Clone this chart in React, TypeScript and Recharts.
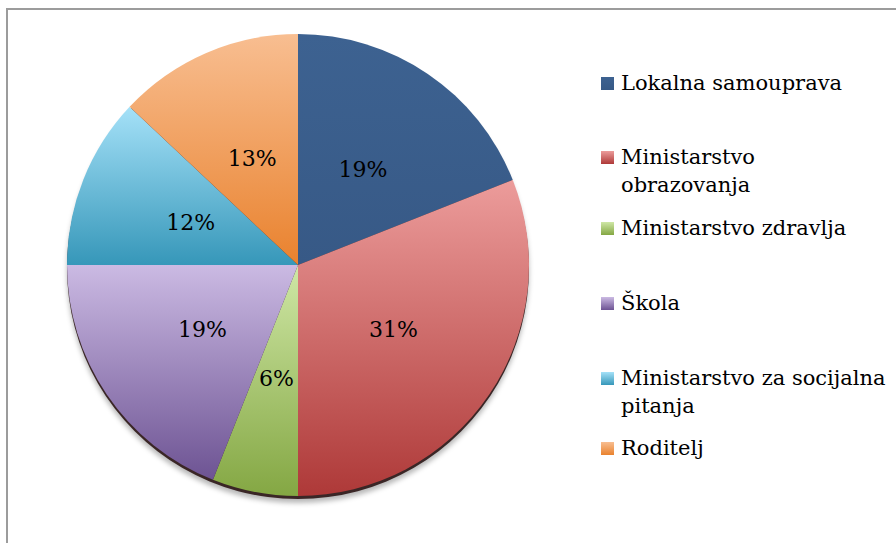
import React from "react";
import { PieChart, Pie, Cell, Legend } from "recharts";

const categories = [
  "Lokalna samouprava",
  "Ministarstvo obrazovanja",
  "Ministarstvo zdravlja",
  "Škola",
  "Ministarstvo za socijalna pitanja",
  "Roditelj",
];
const shares = [19, 31, 6, 19, 12, 13];
const legendLines = [
  ["Lokalna samouprava"],
  ["Ministarstvo", "obrazovanja"],
  ["Ministarstvo zdravlja"],
  ["Škola"],
  ["Ministarstvo za socijalna", "pitanja"],
  ["Roditelj"],
];

const topColors = ["#3D6291", "#EC9C9B", "#CFE7A6", "#CBBAE3", "#A5E1F8", "#F8BE91"];
const bottomColors = ["#375986", "#AE3938", "#84A743", "#6D5393", "#3697B9", "#E9822E"];
const legendTops = [61, 135, 206, 281, 356, 426];

const data = categories.map((name, i) => ({ name, value: shares[i] }));
const total = shares.reduce((a, b) => a + b, 0);
const shadowData = [{ name: "shadow", value: total }];

const FONT = "'DejaVu Serif', serif";
const RAD = Math.PI / 180;

const renderLabel = (props: any) => {
  const { cx, cy, midAngle, outerRadius, value } = props;
  const r = outerRadius * 0.5;
  const x = cx + r * Math.cos(-midAngle * RAD);
  const y = cy + r * Math.sin(-midAngle * RAD);
  return (
    <text
      x={x}
      y={y}
      textAnchor="middle"
      dominantBaseline="central"
      fontFamily={FONT}
      fontSize={22}
      fill="#000"
    >
      {value}%
    </text>
  );
};

const LegendContent = () => (
  <div style={{ position: "relative", width: 287, height: 480, fontFamily: FONT, fontSize: 21, color: "#000" }}>
    {legendLines.map((lines, i) => (
      <div key={i} style={{ position: "absolute", left: 0, top: legendTops[i], lineHeight: "28px" }}>
        <span
          style={{
            position: "absolute",
            left: 0,
            top: 8,
            width: 13,
            height: 13,
            background: `linear-gradient(${topColors[i]}, ${bottomColors[i]})`,
          }}
        />
        <div style={{ marginLeft: 20, whiteSpace: "nowrap" }}>
          {lines.map((l, j) => (
            <div key={j}>{l}</div>
          ))}
        </div>
      </div>
    ))}
  </div>
);

export default function App() {
  const cx = 290;
  const cy = 257;
  const r = 231;
  return (
    <div style={{ position: "relative", width: 880, height: 527 }}>
      <PieChart width={880} height={527} margin={{ top: 0, right: 0, bottom: 0, left: 0 }}>
        <defs>
          {topColors.map((c, i) => (
            <linearGradient key={i} id={`g${i}`} x1="0" y1="0" x2="0" y2="1">
              <stop offset="0%" stopColor={c} />
              <stop offset="100%" stopColor={bottomColors[i]} />
            </linearGradient>
          ))}
          <filter id="blur" x="-10%" y="-10%" width="120%" height="120%">
            <feGaussianBlur stdDeviation="2.5" />
          </filter>
        </defs>
        <Pie
          data={shadowData}
          dataKey="value"
          cx={cx}
          cy={cy + 7}
          outerRadius={r}
          startAngle={90}
          endAngle={-270}
          isAnimationActive={false}
          stroke="none"
          legendType="none"
        >
          <Cell fill="rgba(0,0,0,0.28)" filter="url(#blur)" />
        </Pie>
        <Pie
          data={shadowData}
          dataKey="value"
          cx={cx}
          cy={cy + 3}
          outerRadius={r}
          startAngle={90}
          endAngle={-270}
          isAnimationActive={false}
          stroke="none"
          legendType="none"
        >
          <Cell fill="#3a2626" />
        </Pie>
        <Pie
          data={data}
          dataKey="value"
          nameKey="name"
          cx={cx}
          cy={cy}
          outerRadius={r}
          startAngle={90}
          endAngle={-270}
          isAnimationActive={false}
          stroke="none"
          label={renderLabel}
          labelLine={false}
        >
          {data.map((d, i) => (
            <Cell key={d.name} fill={`url(#g${i})`} />
          ))}
        </Pie>
        <Legend
          layout="vertical"
          verticalAlign="top"
          align="right"
          content={<LegendContent />}
          wrapperStyle={{ left: 593, top: 0, width: 287 }}
        />
      </PieChart>
      <div
        style={{
          position: "fixed",
          left: 6,
          top: 8,
          width: 890,
          height: 535,
          borderTop: "2px solid #9c9c9c",
          borderLeft: "2px solid #9c9c9c",
          boxSizing: "border-box",
          pointerEvents: "none",
        }}
      />
    </div>
  );
}
